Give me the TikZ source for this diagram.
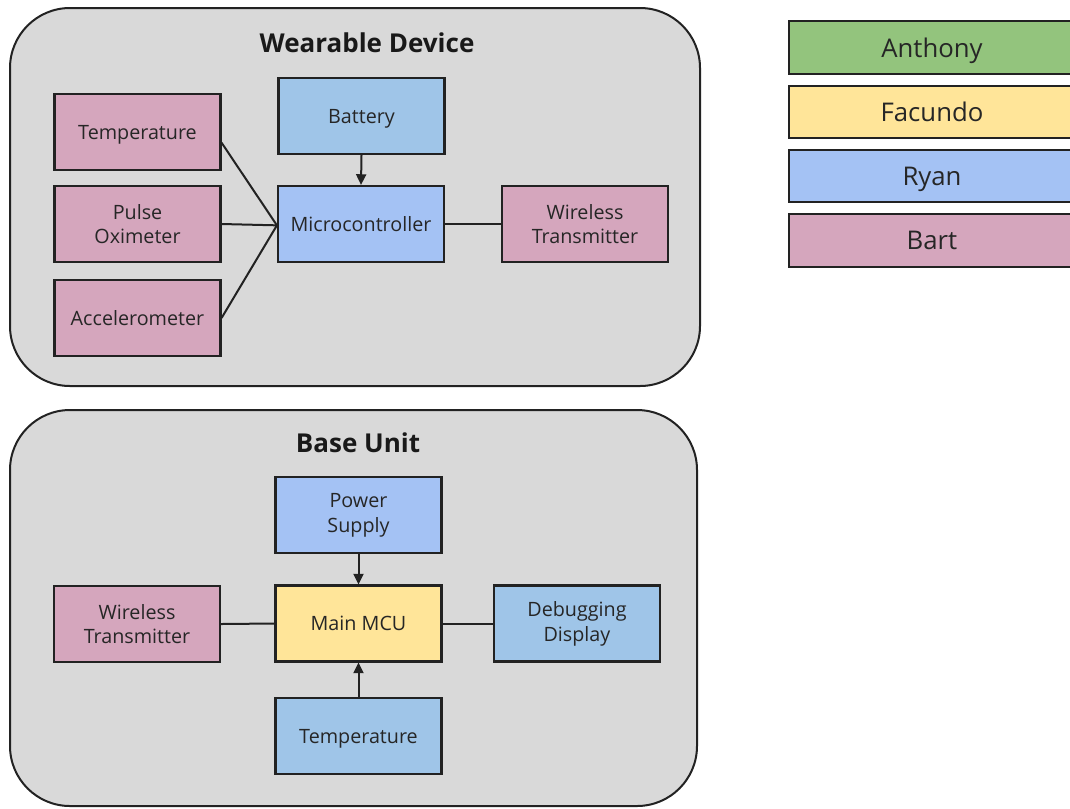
\documentclass[tikz,border=0pt]{standalone}
\usepackage{fontspec}
\setmainfont{Open Sans}
\usetikzlibrary{arrows.meta}
\definecolor{cgray}{HTML}{D9D9D9}
\definecolor{cpink}{HTML}{D5A6BD}
\definecolor{cblue}{HTML}{A4C2F4}
\definecolor{ccyan}{HTML}{9FC5E8}
\definecolor{cyellow}{HTML}{FFE599}
\definecolor{cgreen}{HTML}{93C47D}
\definecolor{cline}{HTML}{222222}
\tikzset{
  px/.style={x=0.75pt,y=-0.75pt},
  container/.style={draw=cline,fill=cgray,line width=1.5pt,rounded corners=45pt},
  blk/.style={draw=cline,line width=1.6pt,minimum width=124.5pt,minimum height=57pt,align=center,font=\fontsize{14.8}{18.6}\selectfont,text=black!85,inner sep=0pt},
  one/.style={text depth=0pt},
  leg/.style={draw=cline,line width=1.6pt,minimum width=214.5pt,minimum height=39.5pt,font=\fontsize{19.3}{22}\selectfont,text=black!85,inner sep=0pt,text depth=0pt},
  title/.style={font=\bfseries\fontsize{19.5}{22}\selectfont,text=black!90},
  conn/.style={draw=cline,line width=1.5pt},
  arr/.style={conn,-{Triangle[length=8pt,width=7.5pt]}}
}
\begin{document}
\begin{tikzpicture}[px]
\useasboundingbox (0,0) rectangle (1070,808);
% containers
\path[container] (10,8) rectangle (700,386);
\path[container] (10,410) rectangle (697,806);
\node[title] (t1) at (367,43) {Wearable Device};
\node[title] (t2) at (358,443) {Base Unit};
% wearable
\node[blk,one,fill=cpink] (temp) at (137.5,132) {Temperature};
\node[blk,fill=cpink] (pulse) at (137.5,224) {Pulse\\Oximeter};
\node[blk,one,fill=cpink] (acc) at (137.5,318) {Accelerometer};
\node[blk,one,fill=ccyan] (bat) at (361.5,116) {Battery};
\node[blk,one,fill=cblue] (mc) at (361,224) {Microcontroller};
\node[blk,fill=cpink] (wt) at (585,224) {Wireless\\Transmitter};
\coordinate (mcin) at ([yshift=-1pt]mc.west);
\draw[conn] ([yshift=-8pt]temp.east) -- (mcin);
\draw[conn] (pulse.east) -- (mcin);
\draw[conn] (acc.east) -- (mcin);
\draw[arr] (bat.south) -- (mc.north);
\draw[conn] (mc.east) -- (wt.west);
% base unit
\node[blk,fill=cblue] (ps) at (358.5,515) {Power\\Supply};
\node[blk,one,fill=cyellow] (mcu) at (358.5,623.5) {Main MCU};
\node[blk,fill=cpink] (wt2) at (137,624) {Wireless\\Transmitter};
\node[blk,fill=ccyan] (dbg) at (577,623.5) {Debugging\\Display};
\node[blk,one,fill=ccyan] (temp2) at (358.5,736) {Temperature};
\draw[arr] (ps.south) -- (mcu.north);
\draw[arr] (temp2.north) -- (mcu.south);
\draw[conn] (wt2.east) -- (mcu.west);
\draw[conn] (mcu.east) -- (dbg.west);
% legend
\node[leg,fill=cgreen] (la) at (932,47.5) {Anthony};
\node[leg,fill=cyellow] (lf) at (932,112) {Facundo};
\node[leg,fill=cblue] (lr) at (932,176) {Ryan};
\node[leg,fill=cpink] (lb) at (932,240.5) {Bart};
\end{tikzpicture}
\end{document}
